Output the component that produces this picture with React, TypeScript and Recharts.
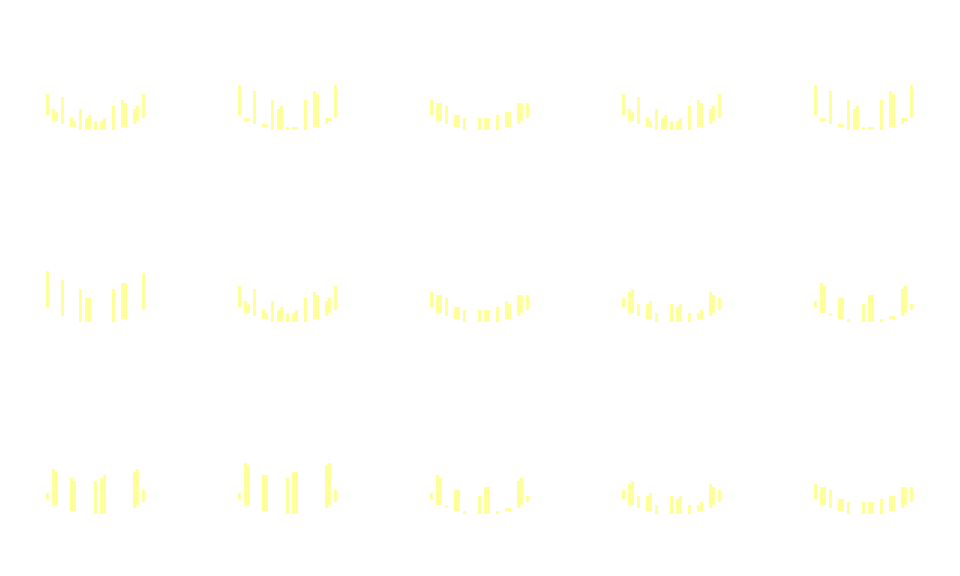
import React from "react";
import { BarChart, Bar, XAxis, YAxis } from "recharts";

// Slot positions (category index) of each bar within a panel, out of 33 slots
const slots = [0, 2, 3, 5, 8, 9, 11, 13, 14, 16, 18, 19, 22, 25, 26, 29, 30, 32];
const slotCount = 33;
// Lower end of every bar (shared by all panels)
const lows = [5, 3, 3, 2, 1, 1, 0, 0, 0, 0, 0, 0, 0, 1, 1, 2, 3, 4];

// Upper ends per panel (null = no bar)
const highsA = [12, 7, 6, 11, 4, 3, 7, 4, 5, 3, 3, 4, 8, 10, 9, 7, 8, 12];
const highsB = [15, 4, 4, 13, 2, 2, 10, 7, 8, 1, 1, 1, 10, 13, 12, 4, 4, 15];
const highsC = [10, 9, 9, 8, 5, 5, 4, null, null, 4, 4, 4, 5, 6, 6, 9, 9, 9];
const highsC2 = [10, 9, 9, 8, 5, 5, 4, null, null, 4, 4, 4, 5, 7, 6, 9, 9, 9];
const highsD = [17, null, null, 14, null, null, 11, 8, 8, null, null, null, 11, 13, 13, null, null, 16];
const highsE = [8, 10, 11, 6, 6, 7, 3, null, null, 6, 5, 6, 3, 3, 4, 10, 9, 8];
const highsF = [7, 13, 12, 3, 8, 8, 1, null, null, 6, 9, 9, 1, 2, 2, 11, 12, 6];
const highsG = [7, 15, 14, null, 12, 11, null, null, null, 11, 12, 13, null, null, null, 14, 15, 8];
const highsH = [7, 17, 16, null, 13, 13, null, null, null, 12, 14, 14, null, null, null, 16, 17, 8];

const panels = [
  highsA, highsB, highsC, highsA, highsB,
  highsD, highsA, highsC2, highsE, highsF,
  highsG, highsH, highsF, highsE, highsC,
];

const COLS = 5;
const CELL_W = 192;
const CELL_H = 192;
const FILL = "#ffff99";

function buildData(highs: (number | null)[]) {
  const rows: { slot: number; range: [number, number] | null }[] = [];
  for (let i = 0; i < slotCount; i++) rows.push({ slot: i, range: null });
  slots.forEach((s, k) => {
    const h = highs[k];
    if (h !== null && h !== undefined && h > lows[k]) rows[s].range = [lows[k], h];
  });
  return rows;
}

function Panel({ highs }: { highs: (number | null)[] }) {
  const data = buildData(highs);
  return (
    <BarChart
      width={CELL_W}
      height={CELL_H}
      data={data}
      margin={{ top: 70, right: 47, bottom: 62, left: 46 }}
      barCategoryGap={0}
      barGap={0}
    >
      <XAxis dataKey="slot" type="category" hide />
      <YAxis hide domain={[0, 20]} type="number" />
      <Bar dataKey="range" fill={FILL} isAnimationActive={false} />
    </BarChart>
  );
}

export default function App() {
  return (
    <div
      style={{
        position: "absolute",
        left: 0,
        top: 0,
        width: 960,
        height: 576,
        background: "#ffffff",
      }}
    >
      {panels.map((h, i) => (
        <div
          key={i}
          style={{
            position: "absolute",
            left: (i % COLS) * CELL_W,
            top: Math.floor(i / COLS) * CELL_H,
            width: CELL_W,
            height: CELL_H,
          }}
        >
          <Panel highs={h} />
        </div>
      ))}
    </div>
  );
}
